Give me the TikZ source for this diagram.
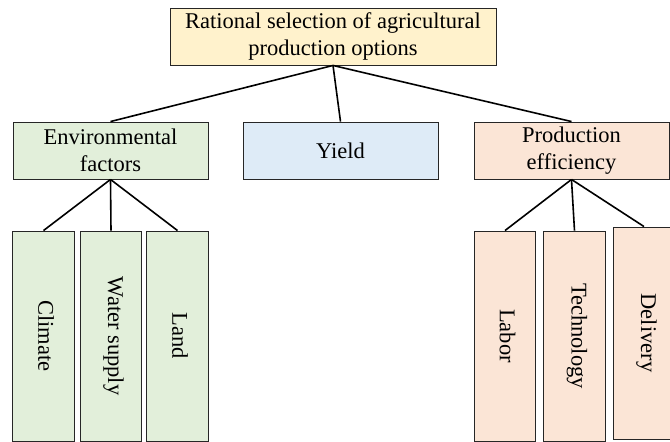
\documentclass[tikz,border=0pt]{standalone}
\usepackage{fontspec}
\setmainfont{Liberation Serif}
\usepackage{graphicx}
\definecolor{topfill}{HTML}{FFF2CC}
\definecolor{envfill}{HTML}{E2EFDA}
\definecolor{yieldfill}{HTML}{DEEBF7}
\definecolor{prodfill}{HTML}{FBE5D6}
\newcommand{\vlabel}[1]{\hspace*{5pt}\rotatebox{-90}{#1}}
\begin{document}
\begin{tikzpicture}[x=1pt, y=-1pt,
                    line width=1.6pt,
                    font=\fontsize{22.5}{27}\selectfont]
    \tikzstyle{box}=[rectangle,draw=black!85,line width=0.9pt,inner sep=0pt]
    \tikzstyle{topbox}=[box, fill=topfill, align=center, minimum width=326pt, minimum height=57pt]
    \tikzstyle{midbox}=[box, align=center, minimum width=195pt, minimum height=57pt]
    \tikzstyle{bar}=[box, minimum width=61.5pt, minimum height=210pt]

    \useasboundingbox (0,0) rectangle (670,442);

    % top and middle row
    \node[topbox] (top) at (333,36.5) {Rational selection of agricultural\\production options};
    \node[midbox, fill=envfill] (env) at (110.5,150.5) {Environmental\\factors};
    \node[midbox, fill=yieldfill] (yield) at (340.5,150.5) {Yield};
    \node[midbox, fill=prodfill] (prod) at (571.5,150.5) {Production\\efficiency};

    % bottom row
    \node[bar, fill=envfill] (climate) at (43.5,336) {\vlabel{Climate}};
    \node[bar, fill=envfill] (water) at (111,336) {\vlabel{Water supply}};
    \node[bar, fill=envfill] (land) at (177.5,336) {\vlabel{Land}};
    \node[bar, fill=prodfill] (labor) at (505,336) {\vlabel{Labor}};
    \node[bar, fill=prodfill] (tech) at (574.5,336) {\vlabel{Technology}};
    \node[bar, fill=prodfill, minimum height=212pt] (delivery) at (644,333) {\vlabel{Delivery}};

    \draw (top.south) -- (env.north);
    \draw (top.south) -- (yield.north);
    \draw (top.south) -- (prod.north);
    \foreach \c in {climate,water,land}
        \draw (env.south) -- (\c.north);
    \foreach \c in {labor,tech,delivery}
        \draw (prod.south) -- (\c.north);
\end{tikzpicture}
\end{document}
